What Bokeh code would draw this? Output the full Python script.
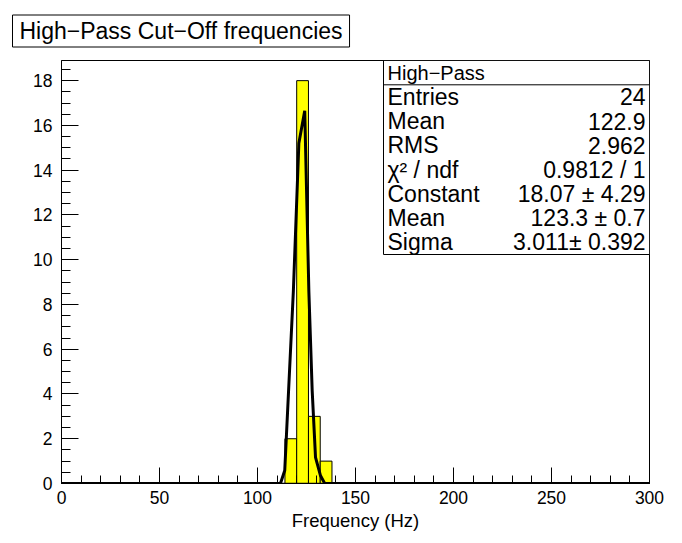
from bokeh.plotting import figure
from bokeh.models import Range1d, SingleIntervalTicker, Label, BoxAnnotation
from bokeh.embed import file_html
from bokeh.resources import INLINE

# ---- data ----
x_min, x_max = 0, 300
y_min, y_max = 0, 18.9
bin_width = 6
bin_left = [114, 120, 126, 132]
bin_counts = [2, 18, 3, 1]

fit_x = [0, 111.7, 113.9, 118.3, 121.1, 124.1, 126.2, 127.9, 129.6, 132.1, 134.3, 300]
fit_y = [0, 0, 0.58, 8.6, 15.2, 16.65, 8.6, 4.15, 1.17, 0.36, 0, 0]

title_text = "High\u2212Pass Cut\u2212Off frequencies"
x_label = "Frequency (Hz)"
stats_name = "High\u2212Pass"
stats_keys = ["Entries", "Mean", "RMS", "\u03c7\u00b2 / ndf", "Constant", "Mean", "Sigma"]
stats_vals = ["24", "122.9", "2.962", "0.9812 / 1", "18.07 \u00b1 4.29", "123.3 \u00b1 0.7", "3.011\u00b1 0.392"]

FONT = "Liberation Sans"

p = figure(frame_width=588, frame_height=423,
           min_border_left=61, min_border_right=33, min_border_top=60, min_border_bottom=60,
           x_range=Range1d(x_min, x_max), y_range=Range1d(y_min, y_max),
           output_backend="svg", toolbar_location=None)
p.background_fill_color = "white"
p.border_fill_color = "white"
p.outline_line_color = "black"
p.outline_line_width = 1
p.xgrid.visible = False
p.ygrid.visible = False

# title in a box
p.title.text = title_text
p.title.align = "left"
p.title.offset = -49
p.title.vertical_align = "top"
p.title.standoff = 23
p.title.text_font = FONT
p.title.text_font_size = "23px"
p.title.text_font_style = "normal"
p.title.text_color = "black"
p.title.background_fill_color = "white"
p.title.border_line_color = "black"
p.title.border_line_width = 1
p.title.padding = dict(left=7, right=7, top=3, bottom=3)

# histogram
bin_right = [b + bin_width for b in bin_left]
p.quad(left=bin_left, right=bin_right, bottom=[0] * len(bin_left), top=bin_counts,
       fill_color="#ffff00", line_color="black", line_width=1)
p.line(x=[x_min, x_max], y=[0, 0], line_color="black", line_width=1.5)
# fit curve
p.line(x=fit_x, y=fit_y, line_color="black", line_width=3)

# axes
p.xaxis.ticker = SingleIntervalTicker(interval=50, num_minor_ticks=5)
p.yaxis.ticker = SingleIntervalTicker(interval=2, num_minor_ticks=4)
for ax in (p.xaxis[0], p.yaxis[0]):
    ax.axis_line_color = "black"
    ax.major_tick_line_color = "black"
    ax.minor_tick_line_color = "black"
    ax.major_tick_out = 0
    ax.minor_tick_out = 0
    ax.major_label_text_font = FONT
    ax.major_label_text_font_size = "17.5px"
    ax.major_label_text_color = "black"
p.xaxis.major_tick_in = 16
p.xaxis.minor_tick_in = 8
p.yaxis.major_tick_in = 17
p.yaxis.minor_tick_in = 9
p.xaxis.major_label_standoff = 7
p.yaxis.major_label_standoff = 9
p.xaxis.axis_label = x_label
p.xaxis.axis_label_text_font = FONT
p.xaxis.axis_label_text_font_size = "18.5px"
p.xaxis.axis_label_text_font_style = "normal"
p.xaxis.axis_label_text_color = "black"
p.xaxis.axis_label_standoff = 3

# stats box (screen units relative to the frame)
box_l, box_r, box_t, box_b, sep = 322, 588, 423, 229, 398.7
p.add_layout(BoxAnnotation(left=box_l, right=box_r, top=box_t, bottom=box_b,
                           left_units="screen", right_units="screen", top_units="screen", bottom_units="screen",
                           fill_color="white", fill_alpha=1, line_color="black", line_width=1, line_alpha=1,
                           line_dash="solid"))
p.add_layout(BoxAnnotation(left=box_l, right=box_r, top=box_t, bottom=sep,
                           left_units="screen", right_units="screen", top_units="screen", bottom_units="screen",
                           fill_alpha=0, line_color="black", line_width=1, line_alpha=1, line_dash="solid"))
p.add_layout(Label(x=box_l + 4, y=(box_t + sep) / 2, x_units="screen", y_units="screen", text=stats_name,
                   text_font=FONT, text_font_size="20px", text_color="black",
                   text_align="left", text_baseline="middle"))
row_h = (sep - box_b) / len(stats_keys)
for i, (k, v) in enumerate(zip(stats_keys, stats_vals)):
    yc = sep - row_h * (i + 0.5)
    p.add_layout(Label(x=box_l + 4, y=yc, x_units="screen", y_units="screen", text=k,
                       text_font=FONT, text_font_size="23px", text_color="black",
                       text_align="left", text_baseline="middle"))
    p.add_layout(Label(x=box_r - 4, y=yc, x_units="screen", y_units="screen", text=v,
                       text_font=FONT, text_font_size="23px", text_color="black",
                       text_align="right", text_baseline="middle"))

open("out.html", "w").write(file_html(p, INLINE))
